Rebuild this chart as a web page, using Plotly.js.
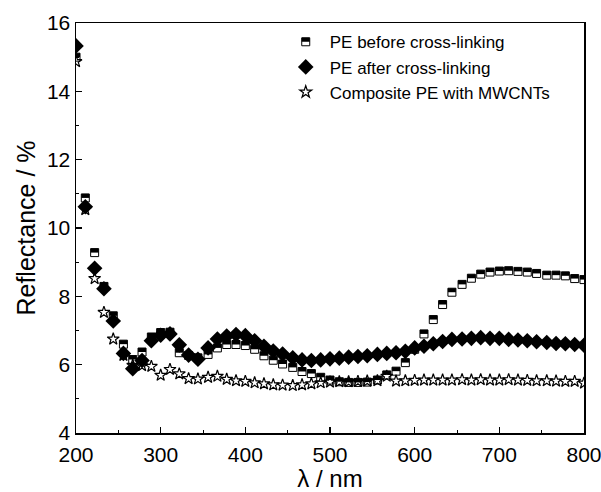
<!DOCTYPE html>
<html>
<head>
<meta charset="utf-8">
<script src="https://cdn.plot.ly/plotly-3.0.1.min.js"></script>
<style>html,body{margin:0;padding:0;background:#fff;}#chart{width:601px;height:492px;}</style>
</head>
<body>
<div id="chart"></div>
<script>
const wavelength = [200,211,222,233,244,256,267,278,289,300,311,322,333,344,356,367,378,389,400,411,422,433,444,456,467,478,489,500,511,522,533,544,556,567,578,589,600,611,622,633,644,656,667,678,689,700,711,722,733,744,756,767,778,789,800];
const peBefore = [15.0,10.88,9.28,8.29,7.43,6.60,6.15,6.37,6.81,6.94,6.95,6.35,6.27,6.20,6.30,6.49,6.59,6.59,6.56,6.45,6.26,6.13,6.02,5.92,5.80,5.74,5.63,5.55,5.50,5.48,5.48,5.49,5.55,5.70,5.81,6.06,6.45,6.90,7.32,7.76,8.12,8.35,8.53,8.65,8.71,8.74,8.75,8.73,8.71,8.67,8.62,8.62,8.60,8.52,8.49];
const peAfter = [15.33,10.62,8.82,8.22,7.28,6.33,5.88,6.12,6.70,6.86,6.90,6.58,6.28,6.16,6.49,6.75,6.84,6.88,6.85,6.70,6.54,6.40,6.31,6.20,6.14,6.12,6.14,6.17,6.19,6.22,6.24,6.26,6.30,6.33,6.35,6.39,6.49,6.54,6.61,6.68,6.74,6.75,6.77,6.79,6.77,6.77,6.74,6.72,6.70,6.67,6.65,6.62,6.61,6.59,6.57];
const composite = [14.87,10.54,8.52,7.53,6.75,6.27,5.98,5.97,5.95,5.69,5.86,5.73,5.59,5.58,5.63,5.66,5.57,5.53,5.51,5.47,5.44,5.41,5.40,5.39,5.41,5.44,5.47,5.49,5.50,5.50,5.51,5.52,5.53,5.66,5.52,5.53,5.54,5.55,5.55,5.55,5.55,5.56,5.55,5.56,5.55,5.55,5.56,5.55,5.54,5.53,5.53,5.52,5.51,5.51,5.46];
const seriesNames = ['PE before cross-linking','PE after cross-linking','Composite PE with MWCNTs'];

const font = 'Arial, "Liberation Sans", sans-serif';
const traces = [
  {x: wavelength, y: peBefore, name: seriesNames[0], type: 'scatter', mode: 'markers',
   marker: {symbol: 'square', size: 8, color: '#ffffff', line: {color: '#000', width: 1}}},
  {x: wavelength, y: peAfter, name: seriesNames[1], type: 'scatter', mode: 'markers',
   marker: {symbol: 'diamond', size: 12, color: '#000', line: {color: '#000', width: 0}}},
  {x: wavelength, y: composite, name: seriesNames[2], type: 'scatter', mode: 'markers',
   marker: {symbol: 'star-open', size: 9, color: '#000', line: {color: '#000', width: 1.2}}}
];

const axisCommon = {
  showgrid: false, zeroline: false, showline: true, linecolor: '#000', linewidth: 1.5,
  mirror: true, ticks: 'inside', ticklen: 6, tickwidth: 1.2, tickcolor: '#000',
  ticklabeloverflow: 'allow',
  tickfont: {family: font, size: 21, color: '#000'}
};

const layout = {
  width: 601, height: 492,
  margin: {l: 76, r: 17, t: 23, b: 59},
  paper_bgcolor: '#fff', plot_bgcolor: '#fff',
  showlegend: true,
  legend: {x: 0.405, y: 0.997, xanchor: 'left', yanchor: 'top', bgcolor: 'rgba(0,0,0,0)',
           font: {family: font, size: 17, color: '#000'}, itemwidth: 38, tracegroupgap: 0},
  xaxis: Object.assign({}, axisCommon, {
    range: [200, 800], dtick: 100, tick0: 200, ticklabelstandoff: 2,
    minor: {dtick: 50, ticks: 'inside', ticklen: 3, tickcolor: '#000', tickwidth: 1},
    title: {text: 'λ / nm', font: {family: font, size: 24, color: '#000'}, standoff: 7}
  }),
  yaxis: Object.assign({}, axisCommon, {
    range: [4, 16], dtick: 2, tick0: 4,
    minor: {dtick: 1, ticks: 'inside', ticklen: 3, tickcolor: '#000', tickwidth: 1},
    title: {text: 'Reflectance / %', font: {family: font, size: 25, color: '#000'}, standoff: 4}
  })
};

Plotly.newPlot('chart', traces, layout, {displayModeBar: false, staticPlot: true}).then(function () {
  // make the "before" squares half-filled (top half black), like the reference
  const gd = document.getElementById('chart');
  const halfTop = function (p) {
    const d = p.getAttribute('d');
    const m = d && d.match(/^M([\d.]+),([\d.]+)H/);
    if (!m) return;
    const r = parseFloat(m[1]);
    const np = p.cloneNode(false);
    np.setAttribute('d', 'M' + r + ',0H-' + r + 'V-' + r + 'H' + r + 'Z');
    np.style.fill = '#000';
    np.style.stroke = 'none';
    p.parentNode.insertBefore(np, p.nextSibling);
  };
  const traceGroups = gd.querySelectorAll('.scatterlayer .trace');
  if (traceGroups[0]) traceGroups[0].querySelectorAll('path.point').forEach(halfTop);
  const legendPts = gd.querySelectorAll('.legend .traces');
  if (legendPts[0]) legendPts[0].querySelectorAll('path.scatterpts').forEach(halfTop);
});
</script>
</body>
</html>
